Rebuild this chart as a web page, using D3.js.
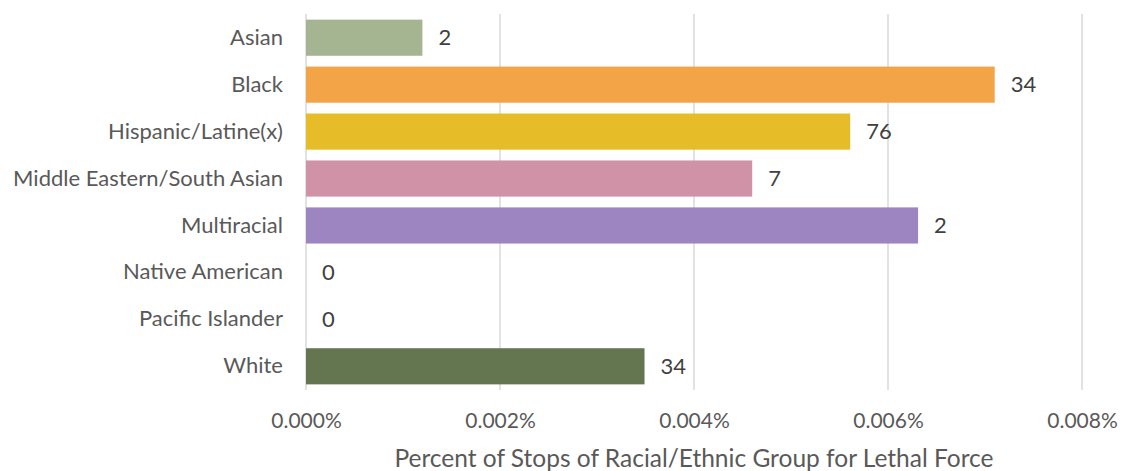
<!DOCTYPE html>
<html><head><meta charset="utf-8">
<script src="https://cdn.jsdelivr.net/npm/d3@7"></script>
<style>body{margin:0;background:#fff}svg{display:block}</style>
</head><body>
<svg id="chart" width="1122" height="471"></svg>
<script>
const categories = ["Asian","Black","Hispanic/Latine(x)","Middle Eastern/South Asian","Multiracial","Native American","Pacific Islander","White"];
const percentValues = [0.0012, 0.0071, 0.00561, 0.0046, 0.00631, 0, 0, 0.00349];
const countLabels = ["2","34","76","7","2","0","0","34"];
const barColors = ["#A5B592","#F3A447","#E7BC29","#D092A7","#9C85C0","#A5B592","#A5B592","#637650"];
const tickValues = [0, 0.002, 0.004, 0.006, 0.008];
const axisTitle = "Percent of Stops of Racial/Ethnic Group for Lethal Force";

const svg = d3.select("#chart");
const font = "Lato, 'Open Sans', sans-serif";
const x = d3.scaleLinear().domain([0, 0.008]).range([306, 1082]);
const y = d3.scaleBand().domain(categories).range([14, 390]).paddingInner(0.23).paddingOuter(0.12);

// gridlines
svg.append("g").selectAll("line").data(tickValues).join("line")
  .attr("x1", d => x(d)).attr("x2", d => x(d))
  .attr("y1", 14).attr("y2", 390)
  .attr("stroke", "#d9d9d9").attr("stroke-width", 1.5);

// bars
svg.append("g").selectAll("rect").data(categories).join("rect")
  .attr("x", x(0))
  .attr("y", d => y(d))
  .attr("width", (d,i) => x(percentValues[i]) - x(0))
  .attr("height", y.bandwidth())
  .attr("fill", (d,i) => barColors[i]);

// data labels
svg.append("g").selectAll("text").data(categories).join("text")
  .attr("x", (d,i) => x(percentValues[i]) + 16)
  .attr("y", d => y(d) + y.bandwidth()/2)
  .attr("dy", "0.35em")
  .attr("font-family", font).attr("font-size", 22)
  .attr("fill", "#404040")
  .text((d,i) => countLabels[i]);

// category labels
const yAxis = d3.axisLeft(y).tickSize(0).tickPadding(0);
const yg = svg.append("g").attr("transform", "translate(283,0)").call(yAxis);
yg.select(".domain").remove();
yg.selectAll("text").attr("font-family", font).attr("font-size", 22).attr("fill", "#595959");

// x tick labels
const xAxis = d3.axisBottom(x).tickValues(tickValues).tickSize(0).tickPadding(0)
  .tickFormat(d => d.toFixed(3) + "%");
const xg = svg.append("g").attr("transform", "translate(0,413)").call(xAxis);
xg.select(".domain").remove();
xg.selectAll("text").attr("font-family", font).attr("font-size", 21).attr("fill", "#595959");

// axis title
svg.append("text")
  .attr("x", x(0.004)).attr("y", 467)
  .attr("text-anchor", "middle")
  .attr("font-family", font).attr("font-size", 24.5)
  .attr("fill", "#595959")
  .text(axisTitle);
</script>
</body></html>
